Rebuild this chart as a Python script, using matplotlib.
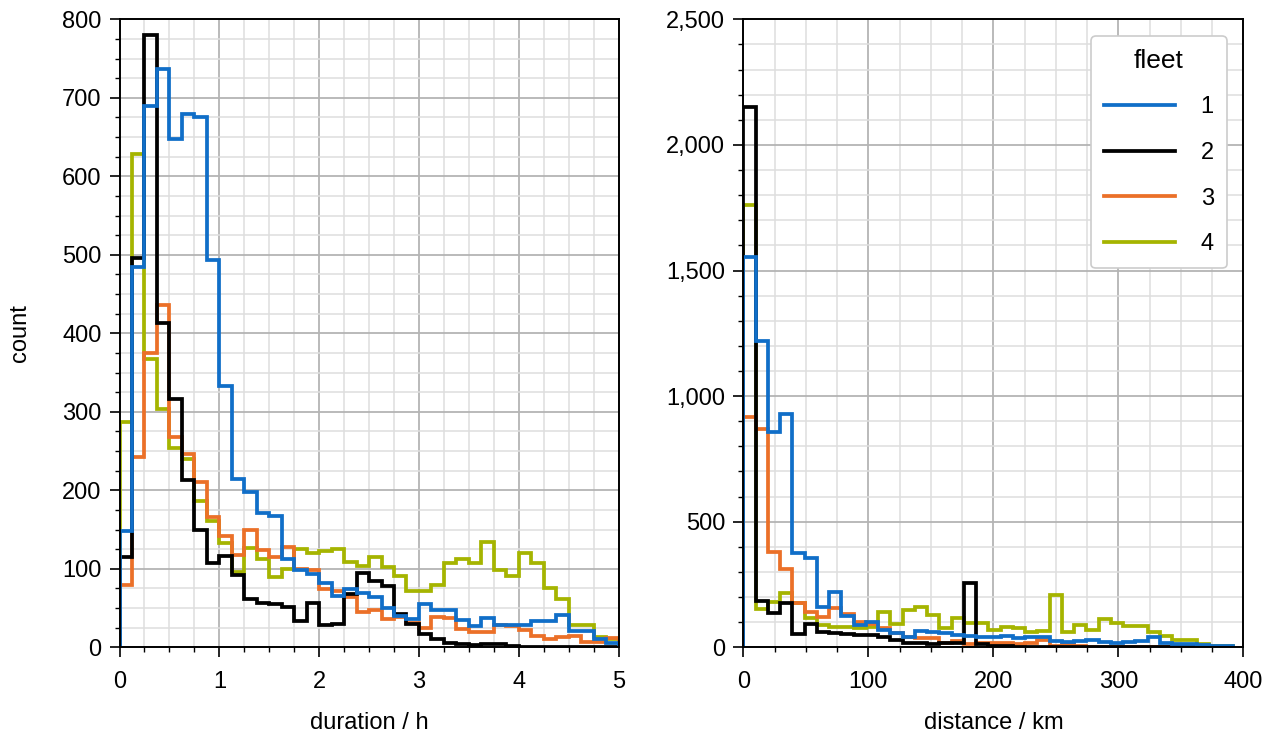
import matplotlib
matplotlib.use("Agg")
import matplotlib.pyplot as plt
import numpy as np
from matplotlib.ticker import MultipleLocator, StrMethodFormatter

plt.rcParams['font.family'] = ['Liberation Sans', 'DejaVu Sans']
plt.rcParams['font.size'] = 17

fleets = ["1", "2", "3", "4"]
colors = ["#106ec8", "#000000", "#eb7028", "#a5b400"]

# duration histogram: 40 bins of 0.125 h from 0 to 5 h
dur_width = 0.125
dur_counts = {
    "1": [148, 485, 690, 737, 648, 680, 676, 493, 333, 214, 198, 171, 167, 112, 98, 93, 82, 65,
          74, 69, 64, 50, 40, 36, 55, 47, 47, 35, 27, 37, 28, 28, 28, 34, 34, 41, 21, 21, 11, 5],
    "2": [115, 496, 780, 413, 316, 213, 149, 107, 116, 92, 61, 57, 55, 51, 33, 57, 28, 30,
          68, 95, 84, 78, 42, 30, 17, 10, 6, 4, 3, 4, 4, 2, 1, 1, 0, 0, 0, 0, 0, 0],
    "3": [79, 243, 375, 436, 268, 246, 211, 166, 142, 118, 150, 124, 115, 128, 100, 98, 74, 72,
          64, 45, 48, 36, 38, 31, 24, 39, 37, 23, 19, 19, 28, 27, 22, 15, 11, 13, 15, 7, 7, 12],
    "4": [287, 628, 367, 303, 254, 240, 186, 161, 133, 96, 126, 113, 89, 100, 125, 120, 123, 125,
          109, 104, 115, 102, 91, 72, 72, 80, 107, 113, 107, 134, 98, 91, 120, 107, 75, 61, 28, 28, 13, 11],
}

# distance histogram: 40 bins of 9.8 km from 0 km
dist_width = 9.8
dist_counts = {
    "1": [1554, 1220, 858, 927, 374, 354, 159, 221, 125, 89, 102, 69, 56, 42, 66, 62, 56, 49, 45, 42,
          42, 45, 36, 40, 42, 26, 22, 26, 29, 22, 18, 22, 24, 40, 18, 13, 13, 9, 7, 5],
    "2": [2150, 185, 135, 175, 53, 93, 62, 58, 53, 49, 49, 40, 29, 16, 16, 13, 16, 16, 257, 13,
          5, 4, 3, 3, 2, 2, 1, 1, 1, 0, 0, 0, 0, 0, 0, 0, 0, 0, 0, 0],
    "3": [915, 871, 380, 310, 177, 142, 122, 155, 133, 102, 93, 75, 56, 42, 36, 36, 16, 27, 13, 16,
          18, 18, 13, 18, 29, 5, 13, 5, 3, 2, 1, 1, 0, 0, 0, 0, 0, 0, 0, 0],
    "4": [1760, 151, 181, 217, 177, 115, 89, 82, 82, 75, 82, 142, 93, 148, 162, 128, 75, 115, 98, 98,
          69, 82, 76, 62, 66, 208, 62, 89, 69, 111, 95, 85, 85, 62, 45, 29, 29, 13, 5, 5],
}

fig = plt.figure(figsize=(12.77, 7.35), dpi=100)
ax1 = fig.add_axes([0.0936, 0.1193, 0.3908, 0.8544])
ax2 = fig.add_axes([0.5821, 0.1193, 0.3915, 0.8544])


def draw(ax, counts, width):
    for f, c in reversed(list(zip(fleets, colors))):
        vals = np.array(counts[f], dtype=float)
        edges = np.arange(len(vals) + 1) * width
        ax.stairs(vals, edges, color=c, lw=2.7, label=f, baseline=0)


def style(ax):
    ax.set_axisbelow(True)
    ax.grid(which="major", color="#b4b4b4", lw=1.3)
    ax.grid(which="minor", color="#dedede", lw=1.1)
    ax.tick_params(which="major", direction="out", length=7, width=1.2, labelsize=17, pad=6)
    ax.tick_params(axis="x", which="major", pad=10)
    ax.tick_params(which="minor", direction="out", length=3.5, width=1.0)
    for s in ax.spines.values():
        s.set_linewidth(1.4)


draw(ax1, dur_counts, dur_width)
ax1.set_xlim(0, 5)
ax1.set_ylim(0, 800)
ax1.xaxis.set_major_locator(MultipleLocator(1))
ax1.xaxis.set_minor_locator(MultipleLocator(0.25))
ax1.yaxis.set_major_locator(MultipleLocator(100))
ax1.yaxis.set_minor_locator(MultipleLocator(25))
ax1.set_xlabel("duration / h", fontsize=17, labelpad=14)
ax1.set_ylabel("count", fontsize=17, labelpad=22)
style(ax1)

draw(ax2, dist_counts, dist_width)
ax2.set_xlim(0, 400)
ax2.set_ylim(0, 2500)
ax2.xaxis.set_major_locator(MultipleLocator(100))
ax2.xaxis.set_minor_locator(MultipleLocator(25))
ax2.yaxis.set_major_locator(MultipleLocator(500))
ax2.yaxis.set_minor_locator(MultipleLocator(100))
ax2.yaxis.set_major_formatter(StrMethodFormatter("{x:,.0f}"))
ax2.set_xlabel("distance / km", fontsize=17, labelpad=14)
style(ax2)

handles = [plt.Line2D([], [], color=c, lw=2.7) for c in colors]
leg = ax2.legend(handles, fleets, title="fleet", loc="upper right", fontsize=17,
                 title_fontsize=19, handlelength=3.0, handletextpad=1.1,
                 labelspacing=1.0, borderaxespad=0.7, borderpad=0.55,
                 fancybox=True, framealpha=1.0)
leg.get_frame().set_edgecolor("#cccccc")
leg.get_frame().set_linewidth(1.2)

fig.savefig("out.png", dpi=100)
